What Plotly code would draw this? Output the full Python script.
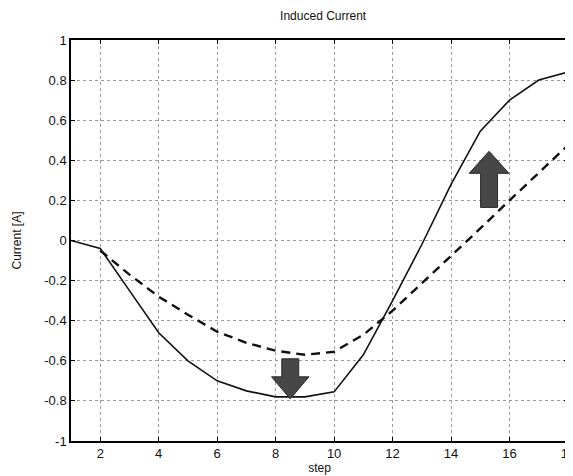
import plotly.graph_objects as go

steps = list(range(1, 19))
solid_current = [0.0, -0.04, -0.25, -0.46, -0.60, -0.70, -0.75, -0.78, -0.78,
                 -0.755, -0.57, -0.30, -0.02, 0.28, 0.545, 0.70, 0.80, 0.84]
dash_steps = list(range(2, 19))
dashed_current = [-0.05, -0.17, -0.28, -0.37, -0.455, -0.51, -0.55, -0.57,
                  -0.555, -0.47, -0.35, -0.215, -0.08, 0.06, 0.20, 0.34, 0.475]

x_ticks = [2, 4, 6, 8, 10, 12, 14, 16, 18]
y_ticks = [1, 0.8, 0.6, 0.4, 0.2, 0, -0.2, -0.4, -0.6, -0.8, -1]
y_tick_labels = ["1", "0.8", "0.6", "0.4", "0.2", "0", "-0.2", "-0.4", "-0.6", "-0.8", "-1"]

# block arrows: (x_center, shaft half width, head half width, start y, head base y, tip y)
down_arrow = [8.5, 0.29, 0.64, -0.59, -0.68, -0.79]
up_arrow = [15.3, 0.29, 0.68, 0.165, 0.335, 0.445]


def arrow_path(a):
    xc, sw, hw, y0, yb, yt = a
    pts = [(xc - sw, y0), (xc + sw, y0), (xc + sw, yb), (xc + hw, yb),
           (xc, yt), (xc - hw, yb), (xc - sw, yb)]
    return "M " + " L ".join(f"{px},{py}" for px, py in pts) + " Z"


fig = go.Figure()
fig.add_trace(go.Scatter(x=steps, y=solid_current, mode="lines",
                         line=dict(color="#111111", width=1.6), showlegend=False))
fig.add_trace(go.Scatter(x=dash_steps, y=dashed_current, mode="lines",
                         line=dict(color="#111111", width=2.4, dash="9px,6px"),
                         showlegend=False))

for a in (down_arrow, up_arrow):
    fig.add_shape(type="path", path=arrow_path(a), xref="x", yref="y",
                  fillcolor="#474747", line=dict(color="#2a2a2a", width=1))

font_family = "Liberation Sans, Arial, sans-serif"
fig.update_layout(
    width=573, height=476,
    margin=dict(l=63, r=6, t=32, b=43),
    paper_bgcolor="white", plot_bgcolor="white",
    font=dict(family=font_family, size=13, color="#111111"),
    title=dict(text="Induced Current", x=0.55, xanchor="center", y=0.992,
               yanchor="top", font=dict(size=12, family=font_family, color="#111111")),
    xaxis=dict(range=[1, 18], tickvals=x_ticks, ticks="inside", ticklen=4,
               tickcolor="black", showline=True, linecolor="black", linewidth=1.5,
               mirror="ticks", showgrid=True, gridcolor="#9a9a9a", griddash="dot",
               gridwidth=1, zeroline=False, tickfont=dict(size=13),
               title=dict(text="step", standoff=1, font=dict(size=12))),
    yaxis=dict(range=[-1, 1], tickvals=y_ticks, ticktext=y_tick_labels,
               ticks="inside", ticklen=4, tickcolor="black", showline=True,
               linecolor="black", linewidth=1.5, mirror="ticks", showgrid=True,
               gridcolor="#9a9a9a", griddash="dot", gridwidth=1, zeroline=False,
               tickfont=dict(size=13),
               title=dict(text="Current [A]", standoff=20, font=dict(size=12))),
)

fig.write_html("out.html")
